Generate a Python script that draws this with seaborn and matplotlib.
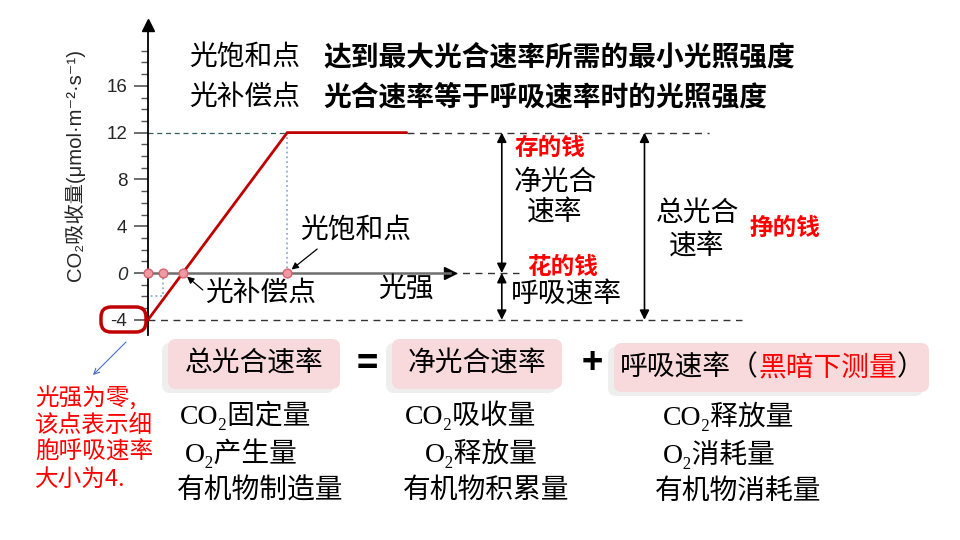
import matplotlib
matplotlib.use("Agg")
import matplotlib.pyplot as plt
import seaborn as sns
from matplotlib.patches import FancyBboxPatch

sns.set_style("white")
plt.rcParams["font.family"] = ["Liberation Sans", "Noto Sans CJK SC", "DejaVu Sans"]

CJK = ["Noto Sans CJK SC", "DejaVu Sans"]
SERIF = ["Liberation Serif", "Noto Sans CJK SC", "DejaVu Serif"]
RED = "#FF0000"
DARKRED = "#C00000"

# light response curve (light intensity vs CO2 uptake)
light = [0, 12, 22.3]
co2 = [-4, 12, 12]
# marked points on the light axis
point_x = [0, 1.3, 3, 12]
point_y = [0, 0, 0, 0]
yticks_major = [-4, 0, 4, 8, 12, 16]
yticks_minor = list(range(-4, 20))
ytick_labels = ["-4", "0", "4", "8", "12", "16"]
respiration = -4
net_max = 12
comp_point = 3
sat_point = 12

# list texts under the equation
gross_items = ["CO₂固定量", "O₂产生量", "有机物制造量"]
net_items = ["CO₂吸收量", "O₂释放量", "有机物积累量"]
resp_items = ["CO₂释放量", "O₂消耗量", "有机物消耗量"]
note_lines = ["光强为零,", "该点表示细", "胞呼吸速率", "大小为4."]

fig = plt.figure(figsize=(9.6, 5.4), dpi=100)
fig.patch.set_facecolor("white")

# main chart axes, 1 unit ~ 11.6 px
ax = fig.add_axes([148 / 960, 1 - 335 / 540, 301.6 / 960, 310 / 540])
ax.set_xlim(0, 26)
ax.set_ylim(-5.3, 21.2)
ax.patch.set_alpha(0)

sns.lineplot(x=light, y=co2, color=DARKRED, lw=2, ax=ax, zorder=4)
sns.scatterplot(x=point_x, y=point_y, s=40, color="#EE9AA2", edgecolor="#D9606E",
                linewidth=1, zorder=6, clip_on=False, ax=ax)

# reference lines
ax.plot([0, sat_point], [net_max, net_max], ls=(0, (4, 3)), color="#2F5F5F", lw=0.9)
ax.plot([22.3, 48.4], [net_max, net_max], ls=(0, (5, 4)), color="#333333", lw=1, clip_on=False)
ax.plot([26, 32], [0, 0], ls=(0, (5, 4)), color="#333333", lw=1, clip_on=False)
ax.plot([0, 51.2], [respiration, respiration], ls=(0, (5, 4)), color="#333333", lw=1, clip_on=False)
ax.plot([sat_point, sat_point], [0, net_max], ls=":", color="#8EA9DB", lw=1.3)
ax.plot([1.3, 1.3, 0], [0, -2, -2], ls=":", color="#8EA9DB", lw=1.3)

# double arrows
arr = dict(arrowstyle="<|-|>", color="black", lw=1.2, shrinkA=0, shrinkB=0, mutation_scale=14)
ax.annotate("", xy=(30.5, net_max), xytext=(30.5, 0), arrowprops=arr, annotation_clip=False)
ax.annotate("", xy=(30.5, 0), xytext=(30.5, respiration), arrowprops=arr, annotation_clip=False)
ax.annotate("", xy=(42.8, net_max), xytext=(42.8, respiration), arrowprops=arr, annotation_clip=False)

# point annotation arrows
pa = dict(arrowstyle="-|>", color="black", lw=0.9, shrinkA=0, shrinkB=4, mutation_scale=10)
ax.annotate("", xy=(sat_point, 0), xytext=(30, 24), textcoords="offset pixels", arrowprops=pa)
ax.annotate("", xy=(comp_point, 0), xytext=(20, -17), textcoords="offset pixels", arrowprops=pa)

# spines and ticks
for s in ["top", "right"]:
    ax.spines[s].set_visible(False)
ax.spines["bottom"].set_position(("data", 0))
ax.spines["bottom"].set_color("#6F6F6F")
ax.spines["bottom"].set_linewidth(1.8)
ax.spines["left"].set_color("black")
ax.spines["left"].set_linewidth(1.3)
ax.set_xticks([])
ax.set_yticks(yticks_major)
ax.set_yticks(yticks_minor, minor=True)
ax.set_yticklabels(ytick_labels, fontsize=13.5, family=["Liberation Sans"])
ax.get_yticklabels()[1].set_fontstyle("italic")
ax.tick_params(axis="y", which="major", length=10, width=1.2, color="#555555", pad=5, left=True)
ax.tick_params(axis="y", which="minor", length=5, width=1, color="#555555", left=True)
ax.plot(0, 1, marker="^", color="black", ms=8, transform=ax.get_xaxis_transform(), clip_on=False)
ax.plot(1, 0, marker=">", color="black", ms=8, transform=ax.get_yaxis_transform(), clip_on=False)
ax.set_xlabel("")
ax.set_ylabel("")

# overlay in pixel coordinates for the text
ov = fig.add_axes([0, 0, 1, 1])
ov.set_xlim(0, 960)
ov.set_ylim(540, 0)
ov.axis("off")
ov.patch.set_alpha(0)

def t(x, y, s, size=20, color="black", ha="left", weight="normal", family=CJK):
    ov.text(x, y, s, fontsize=size, color=color, ha=ha, va="center",
            fontweight=weight, family=family)

ov.text(75, 165, "CO₂吸收量(μmol·m⁻²·s⁻¹)", rotation=90, ha="center", va="center",
        fontsize=14.6, family=["Liberation Sans", "Noto Sans CJK SC", "DejaVu Sans"])

t(245, 57, "光饱和点", ha="center")
t(323, 57, "达到最大光合速率所需的最小光照强度", weight="bold")
t(245, 97, "光补偿点", ha="center")
t(323, 97, "光合速率等于呼吸速率时的光照强度", weight="bold")

t(300, 230, "光饱和点")
t(205, 293, "光补偿点")
t(378, 289, "光强")

t(515, 148, "存的钱", size=17, color=RED, weight="bold")
t(555, 182, "净光合", ha="center")
t(555, 213, "速率", ha="center")
t(527, 267, "花的钱", size=17, color=RED, weight="bold")
t(511, 295, "呼吸速率")
t(697, 213, "总光合", ha="center")
t(697, 247, "速率", ha="center")
t(750, 228, "挣的钱", size=17, color=RED, weight="bold")

# circled -4 and note
ov.add_patch(FancyBboxPatch((101, 307), 45, 25, boxstyle="round,pad=0,rounding_size=10",
                            ec=DARKRED, fc="none", lw=2.5))
ov.annotate("", xy=(91, 377), xytext=(128, 340),
            arrowprops=dict(arrowstyle="->", color="#4472C4", lw=0.8))
for i, line in enumerate(note_lines):
    t(35, 398 + i * 27, line, size=17, color=RED)

# equation boxes
boxes = [(168, 339, 172, 50), (392, 339, 170, 50), (614, 343, 315, 49)]
for bx, by, bw, bh in boxes:
    ov.add_patch(FancyBboxPatch((bx - 6, by + 4), bw, bh, boxstyle="round,pad=0,rounding_size=8",
                                ec="none", fc="#C8C8C8", alpha=0.3))
    ov.add_patch(FancyBboxPatch((bx, by), bw, bh, boxstyle="round,pad=0,rounding_size=8",
                                ec="none", fc="#F8DADD"))
t(254, 364, "总光合速率", ha="center")
t(477, 364, "净光合速率", ha="center")
t(367, 364, "=", size=26, ha="center", weight="bold")
t(592, 363, "+", size=26, ha="center", weight="bold")
t(620, 367, "呼吸速率（")
t(758, 367, "黑暗下测量", color=RED)
t(897, 367, "）")

# item lists
gross_x = [180, 185, 177]
net_x = [405, 425, 403]
resp_x = [663, 663, 655]
rows_y = [415, 453, 491]
for i in range(3):
    t(gross_x[i], rows_y[i], gross_items[i], family=SERIF)
    t(net_x[i], rows_y[i], net_items[i], family=SERIF)
    t(resp_x[i], rows_y[i] + 1, resp_items[i], family=SERIF)

fig.savefig("out.png", dpi=100, facecolor="white")
